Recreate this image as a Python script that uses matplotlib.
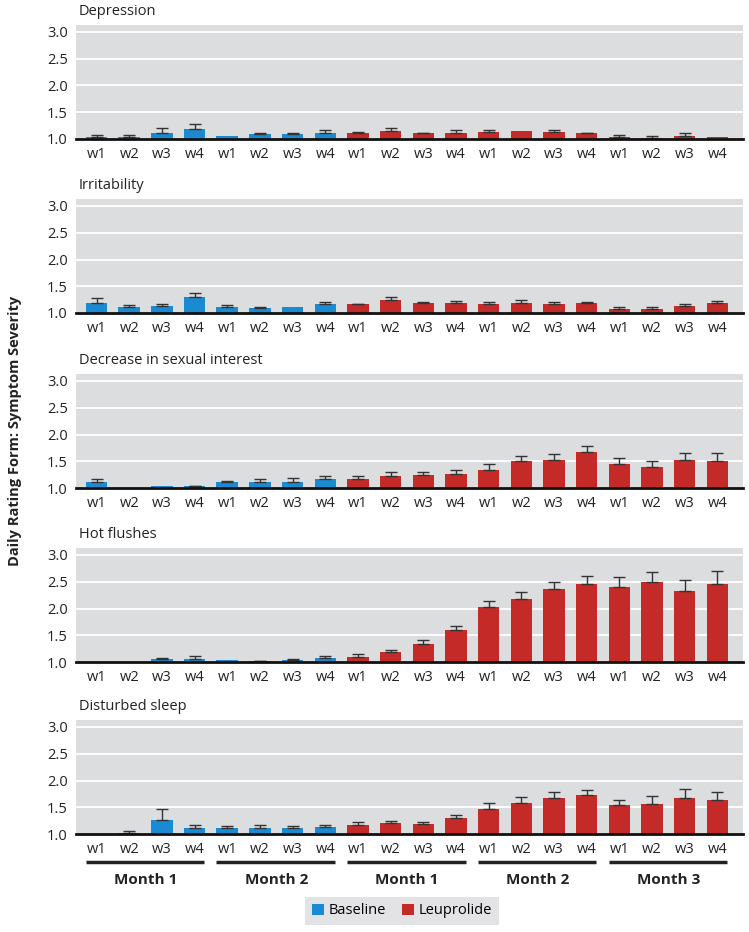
import numpy as np
import matplotlib
matplotlib.use("Agg")
import matplotlib.pyplot as plt
from matplotlib.patches import Patch

plt.rcParams["font.family"] = ["Open Sans", "DejaVu Sans"]

# week labels and groups
weeks = ["w1", "w2", "w3", "w4"] * 5
months = ["Month 1", "Month 2", "Month 1", "Month 2", "Month 3"]
n_baseline = 8

titles = ["Depression", "Irritability", "Decrease in sexual interest",
          "Hot flushes", "Disturbed sleep"]

# means (bars start at 1.0) and upper error (SE)
depression = [1.04, 1.04, 1.12, 1.19, 1.06, 1.09, 1.09, 1.11,
              1.11, 1.15, 1.11, 1.12, 1.13, 1.15, 1.13, 1.11, 1.04, 1.02, 1.06, 1.04]
depression_err = [0.03, 0.03, 0.08, 0.09, 0.0, 0.03, 0.02, 0.05,
                  0.02, 0.05, 0.01, 0.05, 0.03, 0.0, 0.03, 0.01, 0.03, 0.03, 0.05, 0.0]

irritability = [1.19, 1.12, 1.14, 1.29, 1.12, 1.10, 1.12, 1.16,
                1.16, 1.25, 1.19, 1.19, 1.16, 1.19, 1.16, 1.19, 1.08, 1.08, 1.14, 1.19]
irritability_err = [0.09, 0.03, 0.03, 0.08, 0.03, 0.02, 0.0, 0.04,
                    0.01, 0.04, 0.01, 0.03, 0.04, 0.05, 0.04, 0.02, 0.04, 0.04, 0.03, 0.03]

sexual = [1.11, 1.00, 1.03, 1.03, 1.11, 1.11, 1.12, 1.17,
          1.17, 1.22, 1.24, 1.26, 1.34, 1.50, 1.52, 1.67, 1.45, 1.39, 1.52, 1.50]
sexual_err = [0.06, 0.0, 0.0, 0.01, 0.03, 0.06, 0.07, 0.06,
              0.05, 0.07, 0.05, 0.08, 0.11, 0.10, 0.12, 0.12, 0.12, 0.12, 0.14, 0.16]

flushes = [1.00, 1.00, 1.06, 1.06, 1.03, 1.01, 1.03, 1.08,
           1.10, 1.18, 1.34, 1.60, 2.02, 2.17, 2.37, 2.45, 2.41, 2.50, 2.32, 2.45]
flushes_err = [0.0, 0.0, 0.015, 0.05, 0.0, 0.01, 0.02, 0.03,
               0.05, 0.04, 0.07, 0.08, 0.12, 0.13, 0.12, 0.15, 0.17, 0.19, 0.21, 0.26]

sleep = [1.00, 1.02, 1.27, 1.12, 1.12, 1.12, 1.12, 1.14,
         1.16, 1.20, 1.19, 1.29, 1.47, 1.58, 1.67, 1.72, 1.54, 1.56, 1.67, 1.63]
sleep_err = [0.0, 0.04, 0.19, 0.05, 0.03, 0.05, 0.03, 0.03,
             0.06, 0.04, 0.03, 0.06, 0.11, 0.11, 0.11, 0.10, 0.10, 0.15, 0.17, 0.15]

series = [(depression, depression_err), (irritability, irritability_err),
          (sexual, sexual_err), (flushes, flushes_err), (sleep, sleep_err)]

blue = "#1a8ad2"
red = "#c42a27"
panel_bg = "#dcdddf"

W, H = 749, 932
fig = plt.figure(figsize=(W / 100, H / 100), dpi=100)

x = np.arange(len(weeks))
colors = [blue] * n_baseline + [red] * (len(weeks) - n_baseline)
bottoms_px = [139, 313, 488, 662, 834]
ax_h = 114
ax_left, ax_right = 76, 742.5

for k, ((vals, errs), title) in enumerate(zip(series, titles)):
    b = bottoms_px[k]
    ax = fig.add_axes([ax_left / W, 1 - b / H, (ax_right - ax_left) / W, ax_h / H])
    ax.set_facecolor(panel_bg)
    heights = np.array(vals) - 1.0
    ax.bar(x, heights, bottom=1.0, width=0.66, color=colors, zorder=3)
    errs = np.array(errs)
    m = errs > 0
    ax.errorbar(x[m], np.array(vals)[m], yerr=[np.zeros(m.sum()), errs[m]],
                fmt="none", ecolor="#333333", elinewidth=1.0, capsize=4,
                capthick=1.0, zorder=4)
    ax.set_xlim(-0.63, 19.77)
    ax.set_ylim(1.0, 1.0 + ax_h / 53.5)
    ax.set_yticks([1.0, 1.5, 2.0, 2.5, 3.0])
    ax.set_yticklabels(["1.0", "1.5", "2.0", "2.5", "3.0"])
    for yv in [1.5, 2.0, 2.5, 3.0]:
        ax.axhline(yv, color="white", lw=1.3, zorder=1)
    ax.set_xticks(x)
    ax.set_xticklabels(weeks)
    ax.tick_params(length=0, labelsize=10.5, colors="#222222")
    ax.tick_params(axis="x", pad=6)
    ax.tick_params(axis="y", pad=6)
    for s in ["top", "right", "left"]:
        ax.spines[s].set_visible(False)
    ax.spines["bottom"].set_linewidth(2)
    ax.spines["bottom"].set_color("#111111")
    ax.spines["bottom"].set_zorder(5)
    ax.text(0.004, 1 + 13 / ax_h, title, transform=ax.transAxes,
            fontsize=10.5, color="#222222", va="center", ha="left")

    if k == len(series) - 1:
        tr = ax.get_xaxis_transform()
        for g, name in enumerate(months):
            i0 = g * 4
            ax.plot([i0 - 0.33, i0 + 3 + 0.3], [-0.245, -0.245], transform=tr,
                    color="#222222", lw=2.5, clip_on=False, solid_capstyle="butt")
            ax.text(i0 + 1.5, -0.40, name, transform=tr, ha="center", va="center",
                    fontsize=11, fontweight="bold", color="#222222")

fig.text(15 / W, 1 - 431 / H, "Daily Rating Form: Symptom Severity", rotation=90,
         ha="center", va="center", fontsize=10.5, fontweight="bold", color="#222222")

handles = [Patch(facecolor=blue, edgecolor="none", label="Baseline"),
           Patch(facecolor=red, edgecolor="none", label="Leuprolide")]
leg = fig.legend(handles=handles, loc="center", bbox_to_anchor=(402 / W, 1 - 911 / H),
                 ncol=2, frameon=True, fancybox=False, fontsize=10.5,
                 handlelength=0.8, handleheight=0.8, handletextpad=0.35,
                 columnspacing=1.1, borderpad=0.45, borderaxespad=0)
leg.get_frame().set_facecolor(panel_bg)
leg.get_frame().set_edgecolor("none")

fig.savefig("out.png", dpi=100)
